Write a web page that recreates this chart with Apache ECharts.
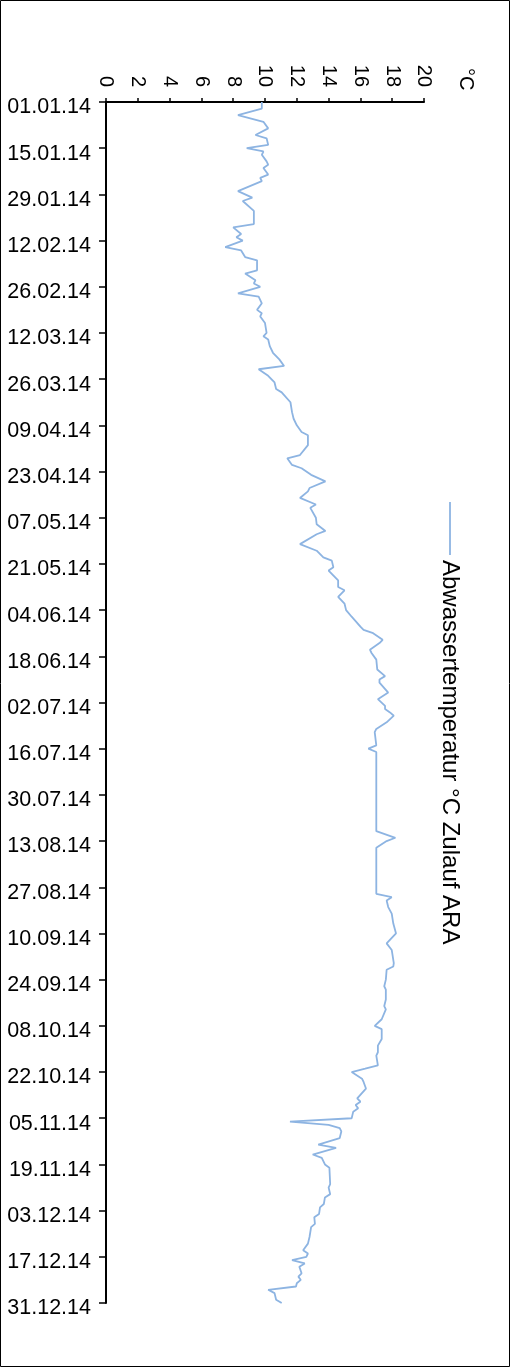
<!DOCTYPE html>
<html>
<head>
<meta charset="utf-8">
<script src="https://cdn.jsdelivr.net/npm/echarts@6/dist/echarts.min.js"></script>
<style>
  html, body { margin: 0; padding: 0; background: #fff; }
  #chart { width: 511px; height: 1369px; }
</style>
</head>
<body>
<div id="chart"></div>
<script>
// Inflow wastewater temperature, 2014. Day offsets count from 01.01.14 (day 0).
const yearStart = Date.UTC(2014, 0, 1);
const dayOffsets = [
  0, 2, 4, 6, 8, 10, 11, 13, 14, 15, 16, 18, 19, 20, 22, 23, 24, 27, 29, 30,
  33, 37, 38, 40, 41, 42, 44, 45, 47, 48, 51, 52, 54, 55, 56, 58, 59, 61, 63, 64,
  65, 67, 70, 71, 72, 74, 76, 78, 80, 81, 83, 85, 87, 88, 91, 94, 96, 98, 100, 101,
  104, 107, 108, 110, 111, 113, 115, 117, 118, 120, 122, 123, 126, 128, 130, 131, 134, 136, 138, 139,
  141, 142, 145, 147, 148, 150, 152, 154, 156, 159, 160, 161, 163, 164, 166, 167, 169, 172, 174, 175,
  176, 179, 181, 183, 184, 185, 186, 188, 190, 191, 195, 196, 197, 221, 223, 224, 226, 240, 241, 242,
  244, 246, 249, 252, 255, 257, 261, 262, 263, 266, 268, 269, 272, 274, 275, 278, 280, 281, 284, 286,
  288, 289, 292, 293, 294, 296, 297, 299, 302, 303, 304, 305, 306, 308, 309, 310, 311, 312, 314, 316,
  317, 319, 320, 322, 323, 328, 329, 331, 332, 334, 335, 337, 338, 340, 341, 344, 346, 348, 349, 350,
  351, 352, 353, 355, 356, 357, 358, 359, 360, 361, 363, 364
];
const tempC = [
  9.8, 9.8, 8.3, 9.9, 10.2, 9.4, 10.1, 10.2, 8.85, 9.9, 9.8, 10.1, 10.2, 9.9, 10.2, 9.7, 9.8, 8.3, 9.2, 8.6,
  9.3, 9.3, 8.0, 8.5, 8.2, 8.6, 7.5, 8.5, 8.75, 9.5, 9.5, 8.75, 9.4, 9.3, 9.7, 8.3, 9.6, 9.8, 9.5, 9.8,
  9.7, 10.0, 10.1, 9.9, 10.2, 10.3, 10.5, 10.9, 11.2, 9.6, 10.2, 10.6, 10.7, 11.05, 11.6, 11.7, 11.8, 12.0, 12.3, 12.7,
  12.7, 12.2, 11.4, 11.7, 12.3, 12.9, 13.8, 12.8, 12.7, 12.2, 13.2, 12.85, 13.2, 13.25, 13.8, 13.25, 12.2, 13.25, 13.67, 14.2,
  14.3, 14.0, 14.6, 14.6, 15.0, 14.6, 15.0, 15.1, 15.45, 16.0, 16.2, 16.8, 17.4, 17.2, 16.6, 16.7, 17.0, 17.06, 17.55, 17.2,
  17.2, 17.75, 17.1, 17.55, 17.55, 17.86, 18.1, 17.65, 17.0, 16.9, 17.0, 16.5, 17.0, 17.0, 18.2, 17.65, 17.0, 17.0, 17.97, 17.65,
  17.75, 17.97, 18.07, 18.24, 17.65, 17.97, 18.1, 18.07, 17.65, 17.6, 17.5, 17.6, 17.6, 17.5, 17.6, 17.34, 16.9, 17.34, 17.34, 17.1,
  17.1, 17.0, 17.1, 16.3, 15.45, 16.1, 16.2, 16.35, 15.8, 16.0, 15.7, 15.86, 15.55, 15.45, 11.57, 14.0, 14.7, 14.8, 14.7, 13.35,
  14.47, 13.0, 13.57, 13.77, 14.05, 14.1, 14.0, 14.1, 13.77, 13.7, 13.46, 13.4, 13.1, 13.14, 12.9, 12.8, 12.7, 12.4, 12.7, 12.6,
  11.7, 12.5, 12.16, 12.3, 12.1, 12.25, 12.0, 11.95, 10.2, 10.6, 10.7, 11.05
];
const seriesName = 'Abwassertemperatur °C Zulauf ARA';
const unitLabel = '°C';
const tempRange = [0, 20, 2];      // min, max, step
const dayRange = [0, 364, 14];     // 01.01.14 .. 31.12.14, every 14 days

function dayLabel(d) {
  const dt = new Date(yearStart + d * 86400000);
  const p = n => String(n).padStart(2, '0');
  return p(dt.getUTCDate()) + '.' + p(dt.getUTCMonth() + 1) + '.' + p(dt.getUTCFullYear() % 100);
}

const FONT = '"Liberation Sans", Arial, sans-serif';
const LINE_COLOR = '#8DB4E2';

const chart = echarts.init(document.getElementById('chart'), null, { renderer: 'canvas' });
chart.setOption({
  animation: false,
  backgroundColor: '#fff',
  grid: { left: 106, top: 102, width: 318, height: 1201, containLabel: false },
  xAxis: {
    type: 'value',
    position: 'top',
    min: tempRange[0], max: tempRange[1], interval: tempRange[2],
    axisLine: { show: true, lineStyle: { color: '#000', width: 2 } },
    axisTick: { show: true, length: 4, lineStyle: { color: '#000', width: 1.5 } },
    splitLine: { show: false },
    axisLabel: {
      rotate: -90, margin: 15, color: '#000',
      fontFamily: FONT, fontSize: 20
    }
  },
  yAxis: {
    type: 'value',
    inverse: true,
    min: dayRange[0], max: dayRange[1], interval: dayRange[2],
    axisLine: { show: true, lineStyle: { color: '#000', width: 2 } },
    axisTick: { show: true, length: 7, lineStyle: { color: '#000', width: 1.5 } },
    splitLine: { show: false },
    axisLabel: {
      margin: 15, color: '#000', fontFamily: FONT, fontSize: 21.5,
      verticalAlign: 'top', lineHeight: 11,
      formatter: v => dayLabel(v)
    }
  },
  series: [{
    name: seriesName,
    type: 'line',
    showSymbol: false,
    lineStyle: { color: LINE_COLOR, width: 1.8 },
    data: dayOffsets.map((d, i) => [tempC[i], d])
  }],
  graphic: [
    {
      type: 'rect', silent: true,
      shape: { x: 0.5, y: 0.5, width: 509, height: 1366 },
      style: { fill: 'none', stroke: '#000', lineWidth: 1 }
    },
    {
      type: 'text', x: 466, y: 68, rotation: -Math.PI / 2,
      style: { text: unitLabel, font: '20px ' + FONT, fill: '#000', textAlign: 'left', textVerticalAlign: 'middle' }
    },
    {
      type: 'line',
      shape: { x1: 450, y1: 502, x2: 450, y2: 555 },
      style: { stroke: LINE_COLOR, lineWidth: 1.8 }
    },
    {
      type: 'text', x: 450, y: 560, rotation: -Math.PI / 2,
      style: { text: seriesName, font: '24px ' + FONT, fill: '#000', textAlign: 'left', textVerticalAlign: 'middle' }
    }
  ]
});
</script>
</body>
</html>
